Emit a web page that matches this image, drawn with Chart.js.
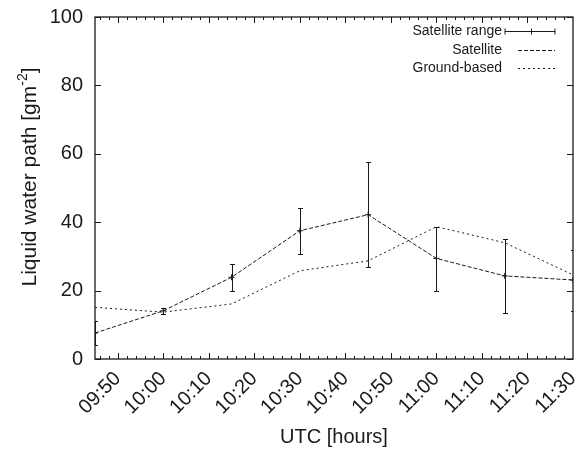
<!DOCTYPE html>
<html>
<head>
<meta charset="utf-8">
<script src="https://cdn.jsdelivr.net/npm/chart.js@4.4.1/dist/chart.umd.min.js"></script>
<style>
  html, body { margin: 0; padding: 0; background: #fff; }
  #wrap { width: 578px; height: 449px; }
</style>
</head>
<body>
<div id="wrap"><canvas id="lwpChart" width="578" height="449"></canvas></div>
<script>
// Liquid water path, satellite vs ground-based
const times = ['09:45', '10:00', '10:15', '10:30', '10:45', '11:00', '11:15', '11:30'];
const satellite = [7.6, 14.1, 23.9, 37.5, 42.2, 29.4, 24.3, 23.1];
const satHigh = [11.2, 14.8, 27.8, 44.1, 57.6, 38.7, 35.0, 31.9];
const satLow = [4.1, 13.3, 20.0, 30.7, 26.8, 19.9, 13.5, 14.1];
const groundBased = [15.1, 13.7, 16.1, 25.8, 28.7, 38.7, 34.0, 24.6];
const xTickLabels = ['09:50', '10:00', '10:10', '10:20', '10:30', '10:40', '10:50', '11:00', '11:10', '11:20', '11:30'];
const yTicks = [0, 20, 40, 60, 80, 100];

const FONT = "'Liberation Sans', Arial, Helvetica, sans-serif";
const INK = '#1a1a1a';

const toMin = t => { const [h, m] = t.split(':').map(Number); return h * 60 + m; };
const fmtMin = v => String(Math.floor(v / 60)).padStart(2, '0') + ':' + String(v % 60).padStart(2, '0');

const timeMin = times.map(toMin);
const xMajor = xTickLabels.map(toMin);
const X_MIN = toMin('09:45');
const X_MAX = toMin('11:30');

// frame, inward ticks, error bars, legend and y title (gnuplot look)
const gnuplotFrame = {
  id: 'gnuplotFrame',
  afterDatasetsDraw(chart) {
    const { ctx, chartArea: a, scales: { x, y } } = chart;
    ctx.save();

    // error bars
    ctx.beginPath();
    ctx.rect(a.left, a.top, a.right - a.left, a.bottom - a.top);
    ctx.clip();
    ctx.strokeStyle = INK;
    ctx.lineWidth = 1;
    timeMin.forEach((t, i) => {
      const px = Math.round(x.getPixelForValue(t)) + 0.5;
      const hi = Math.round(y.getPixelForValue(satHigh[i])) + 0.5;
      const lo = Math.round(y.getPixelForValue(satLow[i])) + 0.5;
      ctx.beginPath();
      ctx.moveTo(px, hi); ctx.lineTo(px, lo);
      ctx.moveTo(px - 2.5, hi); ctx.lineTo(px + 2.5, hi);
      ctx.moveTo(px - 2.5, lo); ctx.lineTo(px + 2.5, lo);
      ctx.stroke();
    });
    ctx.restore();
    ctx.save();

    // border
    ctx.strokeStyle = INK;
    ctx.lineWidth = 1.3;
    ctx.strokeRect(a.left, a.top, a.right - a.left, a.bottom - a.top);

    // ticks
    ctx.lineWidth = 1;
    ctx.beginPath();
    for (let m = X_MIN + 1; m < X_MAX; m += 1) {
      if (m % 2) continue;
      const px = Math.round(x.getPixelForValue(m)) + 0.5;
      const len = m % 10 === 0 ? 6 : 3;
      ctx.moveTo(px, a.bottom); ctx.lineTo(px, a.bottom - len);
      ctx.moveTo(px, a.top); ctx.lineTo(px, a.top + len);
    }
    yTicks.forEach(v => {
      const py = Math.round(y.getPixelForValue(v)) + 0.5;
      ctx.moveTo(a.left, py); ctx.lineTo(a.left + 6, py);
      ctx.moveTo(a.right, py); ctx.lineTo(a.right - 6, py);
    });
    ctx.stroke();

    // legend
    const ds = chart.data.datasets;
    const textRight = 502, s0 = 507, s1 = 555;
    const rows = [31, 50, 68];
    ctx.font = '14px ' + FONT;
    ctx.fillStyle = INK;
    ctx.textAlign = 'right';
    ctx.textBaseline = 'middle';
    ds.forEach((d, i) => {
      const ry = rows[i];
      ctx.fillText(d.label, textRight, ry);
      const yy = ry + 0.5;
      ctx.strokeStyle = INK;
      ctx.lineWidth = 1;
      ctx.setLineDash(d.borderDash || []);
      ctx.beginPath();
      if (i === 0) {
        ctx.moveTo(s0 - 2, yy); ctx.lineTo(s1, yy);
        ctx.moveTo(s0 - 2, yy - 3); ctx.lineTo(s0 - 2, yy + 3);
        ctx.moveTo(s1, yy - 3); ctx.lineTo(s1, yy + 3);
        const mid = Math.round((s0 + s1) / 2) + 0.5;
        ctx.moveTo(mid, yy - 3); ctx.lineTo(mid, yy + 3);
      } else {
        ctx.moveTo(s0 + 11, yy); ctx.lineTo(s1, yy);
      }
      ctx.stroke();
    });
    ctx.setLineDash([]);

    // axis titles
    ctx.font = '20px ' + FONT;
    ctx.textAlign = 'center';
    ctx.textBaseline = 'middle';
    ctx.fillText('UTC [hours]', (a.left + a.right) / 2, 437);

    const main = 'Liquid water path [gm';
    const sup = '-2';
    const tail = ']';
    ctx.font = '21px ' + FONT;
    const wMain = ctx.measureText(main).width;
    const wTail = ctx.measureText(tail).width;
    ctx.font = '14px ' + FONT;
    const wSup = ctx.measureText(sup).width;
    const total = wMain + wSup + wTail;
    ctx.translate(30, 177);
    ctx.rotate(-Math.PI / 2);
    ctx.textAlign = 'left';
    let cx = -total / 2;
    ctx.font = '21px ' + FONT;
    ctx.fillText(main, cx, 0);
    cx += wMain;
    ctx.font = '14px ' + FONT;
    ctx.fillText(sup, cx, -7);
    cx += wSup;
    ctx.font = '21px ' + FONT;
    ctx.fillText(tail, cx, 0);

    ctx.restore();
  }
};

Chart.defaults.font.family = FONT;
Chart.defaults.color = INK;

new Chart(document.getElementById('lwpChart'), {
  type: 'line',
  data: {
    datasets: [
      {
        label: 'Satellite range',
        data: timeMin.map((t, i) => ({ x: t, y: satellite[i] })),
        showLine: false,
        pointStyle: 'cross',
        pointRadius: 3,
        borderColor: INK,
        borderWidth: 1
      },
      {
        label: 'Satellite',
        data: timeMin.map((t, i) => ({ x: t, y: satellite[i] })),
        borderColor: INK,
        borderWidth: 1,
        borderDash: [4, 2],
        pointRadius: 0,
        fill: false
      },
      {
        label: 'Ground-based',
        data: timeMin.map((t, i) => ({ x: t, y: groundBased[i] })),
        borderColor: INK,
        borderWidth: 1,
        borderDash: [2, 3],
        pointRadius: 0,
        fill: false
      }
    ]
  },
  options: {
    responsive: false,
    animation: false,
    devicePixelRatio: 1,
    layout: { padding: { top: 17, right: 4, left: 0, bottom: 0 } },
    plugins: { legend: { display: false }, tooltip: { enabled: false } },
    scales: {
      x: {
        type: 'linear',
        min: X_MIN,
        max: X_MAX,
        grid: { display: false, drawTicks: false },
        border: { display: false },
        afterBuildTicks: s => { s.ticks = xMajor.map(v => ({ value: v })); },
        afterFit: s => { s.height = 90; s.paddingLeft = 0; s.paddingRight = 0; },
        ticks: {
          autoSkip: false,
          minRotation: 45,
          maxRotation: 45,
          padding: 8,
          font: { size: 20 },
          callback: v => fmtMin(v)
        }
      },
      y: {
        min: 0,
        max: 100,
        grid: { display: false, drawTicks: false },
        border: { display: false },
        afterBuildTicks: s => { s.ticks = yTicks.map(v => ({ value: v })); },
        afterFit: s => { s.width = 95; s.paddingTop = 0; s.paddingBottom = 0; },
        ticks: { padding: 12, font: { size: 20 } }
      }
    }
  },
  plugins: [gnuplotFrame]
});
</script>
</body>
</html>
